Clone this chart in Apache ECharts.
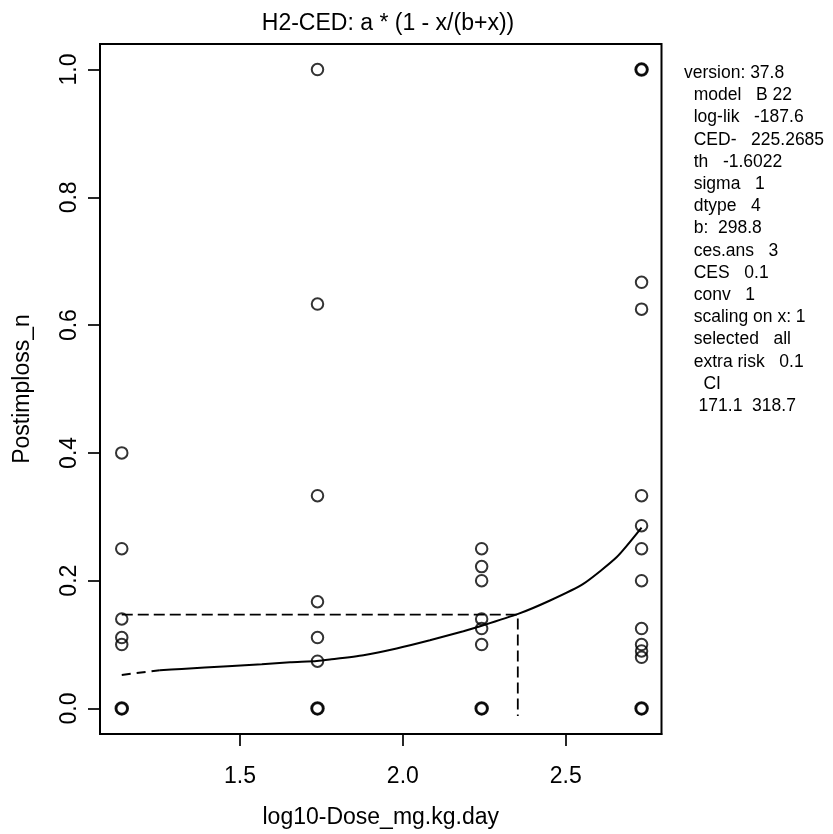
<!DOCTYPE html>
<html lang="en">
  <head>
    <meta charset="UTF-8" />
    <title>H2-CED fit</title>
    <script src="https://cdn.jsdelivr.net/npm/echarts@6.0.0/dist/echarts.min.js"></script>
  </head>
  <body style="margin: 0">
    <div id="main" style="width: 833px; height: 834px"></div>
    <script type="text/javascript">
      // log10 dose of each group
      const doseLevels = [1.137, 1.738, 2.242, 2.733];
      // observed responses per dose group
      const responses = [
        [0.4, 0.25, 0.14, 0.111, 0.1, 0],
        [1.0, 0.633, 0.333, 0.167, 0.111, 0.074, 0],
        [0.25, 0.222, 0.2, 0.14, 0.125, 0.1, 0],
        [1.0, 0.667, 0.625, 0.333, 0.286, 0.25, 0.2, 0.125, 0.1, 0.09, 0.08, 0]
      ];
      // observations that lie on top of each other
      const repeatedX = [1.137, 1.738, 2.242, 2.733, 2.733];
      const repeatedY = [0, 0, 0, 0, 1.0];

      // fitted curve
      const curveX = [1.254, 1.321, 1.463, 1.567, 1.654, 1.736, 1.776, 1.879, 1.981,
        2.083, 2.186, 2.227, 2.354, 2.452, 2.554, 2.657, 2.733];
      const curveY = [0.0598, 0.0619, 0.0661, 0.0692, 0.0723, 0.0744, 0.0766, 0.0833, 0.0938,
        0.1067, 0.1208, 0.127, 0.148, 0.169, 0.195, 0.237, 0.283];
      // dashed start of the curve
      const tailX = [1.137, 1.254];
      const tailY = [0.0525, 0.0598];

      const cedX = 2.353;
      const cesLevel = 0.147;

      const xTicks = [1.5, 2.0, 2.5];
      const yTicks = [0, 0.2, 0.4, 0.6, 0.8, 1.0];

      const infoLines = [
        "version: 37.8",
        "  model   B 22",
        "  log-lik   -187.6",
        "  CED-   225.2685",
        "  th   -1.6022",
        "  sigma   1",
        "  dtype   4",
        "  b:  298.8",
        "  ces.ans   3",
        "  CES   0.1",
        "  conv   1",
        "  scaling on x: 1",
        "  selected   all",
        "  extra risk   0.1",
        "    CI",
        "   171.1  318.7"
      ];

      const font = "Liberation Sans, Arial, sans-serif";
      const xMin = 1.0702, xMax = 2.7942;
      const yMin = -0.04, yMax = 1.04;

      const points = [];
      doseLevels.forEach((x, i) => {
        responses[i].forEach((y) => points.push([x, y]));
      });
      const repeated = repeatedX.map((x, i) => [x, repeatedY[i]]);
      const curve = curveX.map((x, i) => [x, curveY[i]]);
      const tail = tailX.map((x, i) => [x, tailY[i]]);
      const cedLines = [
        [doseLevels[0], cesLevel],
        [cedX, cesLevel],
        [cedX, -0.012]
      ];

      const tickStyle = {
        show: true,
        inside: false,
        length: 12,
        lineStyle: { color: "#000", width: 1.7 }
      };

      var myChart = echarts.init(document.getElementById("main"));

      var option = {
        animation: false,
        backgroundColor: "#fff",
        textStyle: { fontFamily: font, color: "#000" },
        title: {
          text: "H2-CED: a * (1 - x/(b+x))",
          left: 383,
          top: 7,
          textAlign: "center",
          textStyle: { fontFamily: font, fontSize: 23, fontWeight: "normal", color: "#000" }
        },
        grid: {
          left: 100,
          top: 44,
          right: 171.5,
          bottom: 100,
          show: true,
          borderColor: "#000",
          borderWidth: 2,
          containLabel: false
        },
        xAxis: {
          type: "value",
          min: xMin,
          max: xMax,
          name: "log10-Dose_mg.kg.day",
          nameLocation: "middle",
          nameGap: 72,
          nameTextStyle: { fontFamily: font, fontSize: 23, color: "#000" },
          splitLine: { show: false },
          axisLine: { show: true, onZero: false, lineStyle: { color: "#000", width: 2 } },
          axisTick: Object.assign({ customValues: xTicks }, tickStyle),
          axisLabel: {
            customValues: xTicks,
            margin: 31,
            fontFamily: font,
            fontSize: 23,
            color: "#000",
            formatter: (v) => v.toFixed(1)
          }
        },
        yAxis: {
          type: "value",
          min: yMin,
          max: yMax,
          name: "Postimploss_n",
          nameLocation: "middle",
          nameRotate: 90,
          nameGap: 66,
          nameTextStyle: { fontFamily: font, fontSize: 23, color: "#000" },
          splitLine: { show: false },
          axisLine: { show: true, onZero: false, lineStyle: { color: "#000", width: 2 } },
          axisTick: Object.assign({ customValues: yTicks }, tickStyle),
          axisLabel: {
            customValues: yTicks,
            rotate: 90,
            margin: 19,
            fontFamily: font,
            fontSize: 23,
            color: "#000",
            formatter: (v) => v.toFixed(1)
          }
        },
        graphic: [
          {
            type: "text",
            left: 684,
            top: 62,
            style: {
              text: infoLines.join("\n"),
              font: "17.5px " + font,
              lineHeight: 22.2,
              fill: "#000"
            }
          }
        ],
        series: [
          {
            name: "observed",
            type: "scatter",
            data: points,
            symbol: "circle",
            symbolSize: 11.5,
            itemStyle: { color: "rgba(0,0,0,0)", borderColor: "#000", borderWidth: 2 },
            z: 5
          },
          {
            name: "repeated",
            type: "scatter",
            data: repeated,
            symbol: "circle",
            symbolSize: 11.5,
            itemStyle: { color: "rgba(0,0,0,0)", borderColor: "#000", borderWidth: 3 },
            z: 6
          },
          {
            name: "fit",
            type: "line",
            data: curve,
            showSymbol: false,
            smooth: 0.2,
            lineStyle: { color: "#000", width: 2 }
          },
          {
            name: "fit tail",
            type: "line",
            data: tail,
            showSymbol: false,
            lineStyle: { color: "#000", width: 2, type: [9, 6] }
          },
          {
            name: "CED",
            type: "line",
            data: cedLines,
            showSymbol: false,
            lineStyle: { color: "#000", width: 1.8, type: [11, 5] }
          }
        ]
      };

      myChart.setOption(option);
    </script>
  </body>
</html>
